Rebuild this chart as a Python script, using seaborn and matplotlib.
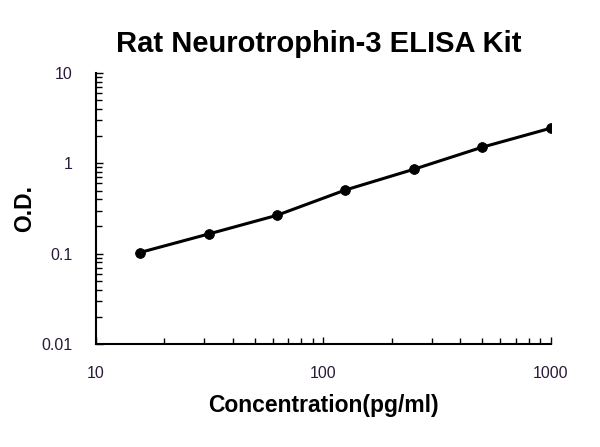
import matplotlib
matplotlib.use('Agg')
import matplotlib.pyplot as plt
import pandas as pd
import seaborn as sns
from matplotlib.ticker import LogLocator, FuncFormatter, NullFormatter

# standard curve
conc = [15.6, 31.25, 62.5, 125, 250, 500, 1000]
od = [0.103, 0.165, 0.266, 0.507, 0.86, 1.51, 2.45]

df = pd.DataFrame({'conc': conc, 'od': od})

sns.set_style('white')
plt.rcParams['font.family'] = ['Liberation Sans', 'DejaVu Sans']
plt.rcParams['text.color'] = 'black'
plt.rcParams['axes.labelcolor'] = 'black'

fig = plt.figure(figsize=(6, 4.47), dpi=100)
ax = fig.add_axes([0.16, 0.2304, 0.758, 0.6063])

sns.lineplot(data=df, x='conc', y='od', ax=ax, color='black', linewidth=2.2)
sns.scatterplot(data=df, x='conc', y='od', ax=ax, color='black', s=50,
                edgecolor='black', zorder=3)

ax.set_xscale('log')
ax.set_yscale('log')
ax.set_xlim(10, 1000)
ax.set_ylim(0.01, 10)

fmt = FuncFormatter(lambda v, p: f'{v:g}')
ax.xaxis.set_major_locator(LogLocator(base=10))
ax.yaxis.set_major_locator(LogLocator(base=10))
ax.xaxis.set_minor_locator(LogLocator(base=10, subs=range(2, 10)))
ax.yaxis.set_minor_locator(LogLocator(base=10, subs=range(2, 10)))
ax.xaxis.set_major_formatter(fmt)
ax.yaxis.set_major_formatter(fmt)
ax.xaxis.set_minor_formatter(NullFormatter())
ax.yaxis.set_minor_formatter(NullFormatter())

ax.tick_params(which='both', direction='in', color='black', width=1,
               bottom=True, left=True, labelsize=11.5, labelcolor='#2a1a3a')
ax.tick_params(which='major', length=5)
ax.tick_params(which='minor', length=4)
ax.tick_params(axis='x', which='major', pad=16)
ax.tick_params(axis='y', which='major', pad=17)

sns.despine(ax=ax)
for s in ['left', 'bottom']:
    ax.spines[s].set_color('black')
    ax.spines[s].set_linewidth(1.5)

ax.set_xlabel('Concentration(pg/ml)', fontsize=16.5, fontweight='bold', labelpad=9)
ax.set_ylabel('O.D.', fontsize=16.5, fontweight='bold', labelpad=4)
ax.set_title('Rat Neurotrophin-3 ELISA Kit', fontsize=21, fontweight='bold',
             pad=15, x=0.49)

fig.savefig('out.png', dpi=100)
